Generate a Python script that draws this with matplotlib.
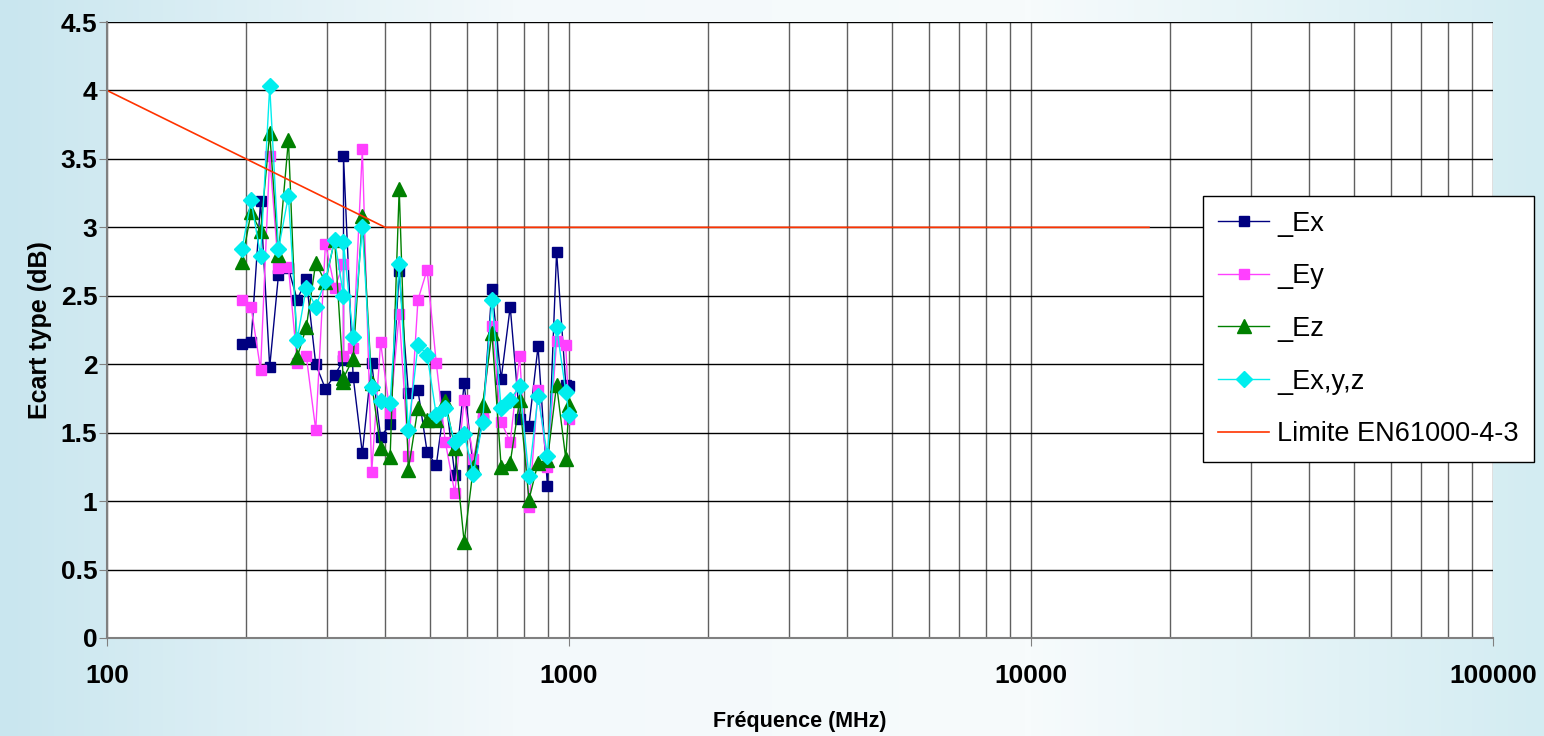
import numpy as np
import matplotlib
matplotlib.use('Agg')
import matplotlib.pyplot as plt
from matplotlib.colors import LinearSegmentedColormap

plt.rcParams['font.family'] = ['Liberation Sans', 'DejaVu Sans']

# frequency points (MHz)
freq = [196, 205, 215, 225, 235, 247, 258, 270, 283, 297,
        311, 325, 325, 341, 357, 374, 391, 410, 429, 449,
        471, 493, 516, 540, 566, 593, 621, 650, 681, 713,
        746, 782, 819, 857, 898, 940, 984, 1000]

ex = [2.15, 2.16, 3.19, 1.98, 2.65, 2.70, 2.47, 2.62, 2.00, 1.82,
      1.92, 2.03, 3.52, 1.91, 1.35, 2.01, 1.47, 1.56, 2.68, 1.79,
      1.81, 1.36, 1.26, 1.77, 1.19, 1.86, 1.23, 1.59, 2.55, 1.89,
      2.42, 1.60, 1.55, 2.13, 1.11, 2.82, 1.85, 1.84]
ey = [2.47, 2.42, 1.96, 3.52, 2.70, 2.71, 2.01, 2.06, 1.52, 2.88,
      2.56, 2.73, 2.06, 2.12, 3.57, 1.21, 2.16, 1.64, 2.37, 1.33,
      2.47, 2.69, 2.01, 1.43, 1.06, 1.74, 1.31, 1.64, 2.28, 1.58,
      1.43, 2.06, 0.96, 1.81, 1.25, 2.17, 2.14, 1.60]
ez = [2.75, 3.11, 2.97, 3.69, 2.80, 3.64, 2.05, 2.27, 2.74, 2.60,
      2.91, 1.87, 1.90, 2.04, 3.08, 1.86, 1.39, 1.32, 3.28, 1.23,
      1.68, 1.59, 1.59, 1.73, 1.39, 0.70, 1.25, 1.70, 2.23, 1.25,
      1.28, 1.74, 1.01, 1.28, 1.30, 1.85, 1.31, 1.70]
exyz = [2.84, 3.20, 2.79, 4.03, 2.84, 3.23, 2.18, 2.56, 2.42, 2.61,
        2.91, 2.50, 2.89, 2.20, 3.00, 1.83, 1.73, 1.72, 2.73, 1.52,
        2.14, 2.07, 1.63, 1.68, 1.43, 1.49, 1.20, 1.58, 2.47, 1.68,
        1.74, 1.84, 1.18, 1.77, 1.33, 2.27, 1.80, 1.63]

lim_f = [100, 400, 18000]
lim_v = [4, 3, 3]

labels = ['_Ex', '_Ey', '_Ez', '_Ex,y,z', 'Limite EN61000-4-3']

fig = plt.figure(figsize=(15.44, 7.36), dpi=100)

# light bluish backdrop
bg = fig.add_axes([0, 0, 1, 1], zorder=-10)
cm = LinearSegmentedColormap.from_list('bg', ['#c9e6ef', '#f3f9fb', '#f7fbfc', '#d3ecf2'])
bg.imshow(np.linspace(0, 1, 256)[None, :], aspect='auto', cmap=cm, extent=[0, 1, 0, 1])
bg.axis('off')

ax = fig.add_axes([0.0693, 0.1332, 0.8977, 0.8369])
ax.set_facecolor('white')

h1, = ax.plot(freq, ex, color='#000080', lw=1, marker='s', ms=7.5, mec='#000080', mfc='#000080')
h2, = ax.plot(freq, ey, color='#ff40ff', lw=1, marker='s', ms=7.5, mec='#ff40ff', mfc='#ff40ff')
h3, = ax.plot(freq, ez, color='#008000', lw=1, marker='^', ms=10, mec='#008000', mfc='#008000')
h4, = ax.plot(freq, exyz, color='#00eeee', lw=1, marker='D', ms=8, mec='#00eeee', mfc='#00eeee')
h5, = ax.plot(lim_f, lim_v, color='#ff3300', lw=1.2)

ax.set_xscale('log')
ax.set_xlim(100, 100000)
ax.set_ylim(0, 4.5)
ax.set_xticks([100, 1000, 10000, 100000])
ax.set_xticklabels(['100', '1000', '10000', '100000'])
ax.set_yticks(np.arange(0, 4.51, 0.5))
ax.set_yticklabels(['0', '0.5', '1', '1.5', '2', '2.5', '3', '3.5', '4', '4.5'])
ax.xaxis.set_minor_formatter(plt.NullFormatter())

ax.grid(True, axis='x', which='both', color='#606060', lw=1)
ax.grid(True, axis='y', which='major', color='black', lw=1)
ax.set_axisbelow(True)

for s in ['top', 'right']:
    ax.spines[s].set_visible(False)
for s in ['left', 'bottom']:
    ax.spines[s].set_color('#808080')
    ax.spines[s].set_linewidth(1.5)

ax.tick_params(axis='x', which='major', length=6, color='#808080', pad=13, labelsize=19)
ax.tick_params(axis='x', which='minor', length=0)
ax.tick_params(axis='y', length=6, color='#808080', pad=1, labelsize=19)
for t in ax.get_xticklabels() + ax.get_yticklabels():
    t.set_fontweight('bold')

ax.set_xlabel('Fréquence (MHz)', fontsize=15.5, fontweight='bold', labelpad=16)
ax.set_ylabel('Ecart type (dB)', fontsize=18, fontweight='bold', labelpad=6)

leg = fig.legend([h1, h2, h3, h4, h5], labels, loc='upper left',
                 bbox_to_anchor=(1203 / 1544, 1 - 196 / 736), fontsize=19.5,
                 frameon=True, fancybox=False, edgecolor='black', framealpha=1,
                 handlelength=1.9, handletextpad=0.3, labelspacing=0.98,
                 borderpad=0.55, borderaxespad=0, numpoints=1)
leg.get_frame().set_linewidth(1)

fig.savefig('out.png', dpi=100)
